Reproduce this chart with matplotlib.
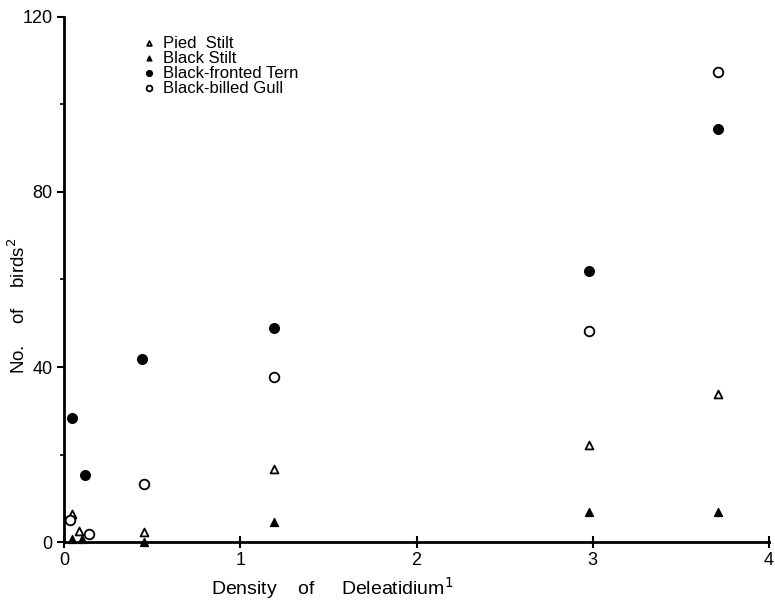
import matplotlib
matplotlib.use("Agg")
import matplotlib.pyplot as plt
from matplotlib.ticker import MultipleLocator

plt.rcParams['font.family'] = ['Liberation Sans', 'DejaVu Sans']

# data
pied_x = [0.045, 0.085, 0.45, 1.19, 2.98, 3.71]
pied_y = [6.4, 2.5, 2.3, 16.7, 22.2, 33.8]
black_x = [0.045, 0.10, 0.45, 1.19, 2.98, 3.71]
black_y = [0.7, 0.7, 0.0, 4.6, 6.9, 6.9]
tern_x = [0.045, 0.12, 0.44, 1.19, 2.98, 3.71]
tern_y = [28.3, 15.3, 41.8, 49.0, 62.0, 94.4]
gull_x = [0.035, 0.14, 0.45, 1.19, 2.98, 3.71]
gull_y = [5.0, 1.8, 13.3, 37.7, 48.2, 107.4]

fig = plt.figure(figsize=(7.75, 6.01), dpi=100)
ax = fig.add_axes([0.083, 0.098, 0.909, 0.874])

ax.scatter(pied_x, pied_y, marker='^', s=32, facecolors='white', edgecolors='black', linewidths=1.3, label='Pied  Stilt', clip_on=False, zorder=3)
ax.scatter(black_x, black_y, marker='^', s=32, c='black', label='Black Stilt', clip_on=False, zorder=3)
ax.scatter(tern_x, tern_y, marker='o', s=48, c='black', label='Black-fronted Tern', clip_on=False, zorder=3)
ax.scatter(gull_x, gull_y, marker='o', s=48, facecolors='white', edgecolors='black', linewidths=1.3, label='Black-billed Gull', clip_on=False, zorder=3)

ax.set_xlim(0, 4)
ax.set_ylim(0, 120)
ax.xaxis.set_major_locator(MultipleLocator(1))
ax.yaxis.set_major_locator(MultipleLocator(40))
ax.yaxis.set_minor_locator(MultipleLocator(20))
ax.spines['top'].set_visible(False)
ax.spines['right'].set_visible(False)
ax.spines['left'].set_linewidth(2)
ax.spines['bottom'].set_linewidth(2)
ax.tick_params(axis='both', labelsize=13, width=1.5, length=5)
ax.tick_params(axis='y', which='minor', length=3, width=1.2)
ax.tick_params(axis='x', direction='inout', length=8, pad=3)

ax.set_xlabel('Density    of     Deleatidium$^{1}$', fontsize=14)
ax.xaxis.set_label_coords(0.38, -0.062)
ax.set_ylabel('No.    of    birds$^{2}$', fontsize=13.5)
ax.yaxis.set_label_coords(-0.05, 0.45)

ax.legend(loc='upper left', bbox_to_anchor=(0.097, 0.98), frameon=False, fontsize=12,
          handletextpad=0.3, labelspacing=0.0, markerscale=0.6, borderpad=0,
          handlelength=1.0)

fig.savefig("out.png")
